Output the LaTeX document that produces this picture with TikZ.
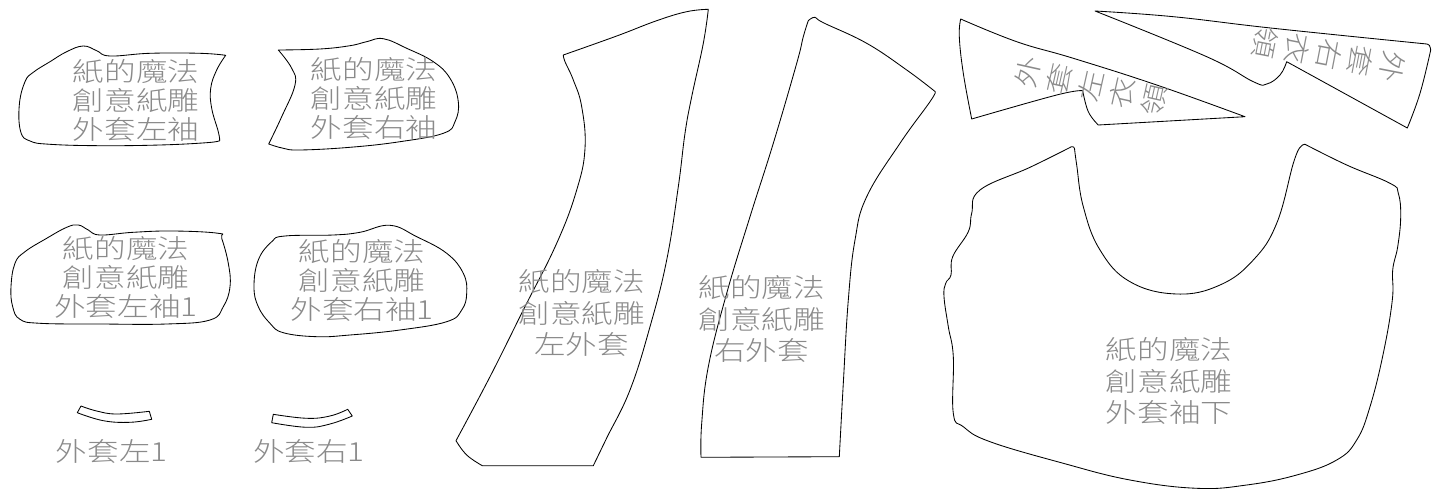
\documentclass[tikz,border=0pt]{standalone}
\usepackage{fontspec}
\newfontfamily\cjk[FakeStretch=1.2]{Noto Sans CJK TC Light}
\definecolor{txt}{HTML}{8A8A8A}
\tikzset{
 piece/.style={draw=black,line width=0.85pt,line join=round},
 lab/.style={text=txt,align=center,inner sep=0pt,font=\cjk\fontsize{26.3}{29}\selectfont},
 labw/.style={text=txt,align=center,inner sep=0pt,font=\cjk\fontsize{26.3}{31.7}\selectfont},
 labv/.style={text=txt,align=center,inner sep=0pt,font=\cjk\fontsize{26.3}{32.3}\selectfont},
 sm/.style={smooth,tension=0.7}
}
\begin{document}
\begin{tikzpicture}[x=1pt,y=-1pt]
\useasboundingbox (0,0) rectangle (1440,489);
% sleeves
\draw[piece] plot[sm] coordinates {(225.7,55.3)(200,53.3)(150,53.3)(110,56)(96.7,50.7)(83.3,46)(66.7,51.7)(50,61.7)(33.3,72.3)(25,81.7)(19.3,105)(20.7,131.7)(30,141)(50,144.3)(100,145.7)(160,145)(206.7,142.7)(219.7,140.7)}
 -- plot[sm] coordinates {(219.7,140.7)(218.3,131.7)(211.7,108.3)(210.7,88.3)(216.7,70)(225.7,55.3)} -- cycle;
\draw[piece] plot[sm] coordinates {(278.3,50)(320,49)(350,45.7)(366.7,41.7)(383.3,38.7)(406.7,48.3)(433.3,61.7)(450,78.3)(458.3,101.7)(455,121.7)(443.3,133.3)(400,141.7)(350,147.3)(300,150)(283.3,148.3)(268.7,144)}
 -- plot[sm] coordinates {(268.7,144)(281.7,116.7)(295,85)(291.7,68.3)(278.3,50)} -- cycle;
\draw[piece] plot[smooth cycle,tension=0.7] coordinates {(218.3,233.3)(221.7,238.3)(228.3,263.3)(230,286.7)(223.3,306.7)(210,320)(166.7,324)(100,324)(40,323.3)(20,319.3)(12.7,306.7)(11,286.7)(15,263.3)(25,251.7)(46.7,238.3)(66.7,227.3)(78.3,225)(88.3,230)(100,235)(133.3,232.3)(173.3,231)};
\draw[piece] plot[smooth cycle,tension=0.7] coordinates {(285,236)(333.3,235)(360,232.3)(390,225.3)(416.7,236.7)(446.7,253.3)(463.3,273.3)(466.7,293.3)(461.7,310)(446.7,321.7)(400,330)(350,335)(316.7,336.7)(283.3,332.7)(270,323.3)(258.3,306.7)(254,286.7)(258.3,260)(271.7,241.7)};
% small strips
\draw[piece] plot[sm] coordinates {(81,406)(96.7,411)(116.7,414)(149.3,411.3)} -- (151.7,419.3) -- plot[sm] coordinates {(151.7,419.3)(130,422.3)(103.3,420.7)(77.3,412.7)} -- cycle;
\draw[piece] plot[sm] coordinates {(273.3,414.3)(306.7,418.3)(330,416)(347.7,409.3)} -- (352.3,416) -- plot[sm] coordinates {(352.3,416)(330,424)(306.7,427.3)(271.7,422.7)} -- cycle;
% left coat
\draw[piece] plot[sm] coordinates {(563.3,55)(616.7,36)(656.7,20.7)(686.7,11.7)(708.3,9.3)}
 -- plot[sm] coordinates {(708.3,9.3)(703.3,43.3)(691.7,96.7)(685,133.3)(678.3,186.7)(666.7,260)(650,326.7)(630,390)(606.7,438)(593.3,465.7)}
 -- (482.3,465.7) -- plot[sm] coordinates {(482.3,465.7)(466.7,455)(456,440.7)}
 -- plot[sm] coordinates {(456,440.7)(490,376.7)(523.3,310)(556.7,243.3)(576.7,190)(585,148.3)(581.7,106.7)(573.3,80)(565,61.7)(563.3,55)} -- cycle;
% right coat
\draw[piece] plot[sm] coordinates {(808.3,20.7)(815,17.3)(823.3,22.7)(866.7,43.3)(906.7,70)(935.3,91.7)}
 -- plot[sm] coordinates {(935.3,91.7)(930,101.7)(900,143.3)(866.7,196.7)(855,240)(848.3,300)(843.3,383.3)(839.3,456.7)}
 -- (701,457.3) -- plot[sm] coordinates {(701,457.3)(701.7,423.3)(708.3,366.7)(726.7,293.3)(750,216.7)(773.3,143.3)(796.7,63.3)(803.3,36.7)(808.3,20.7)} -- cycle;
% collars
\draw[piece] plot[sm] coordinates {(960.7,19)(1016.7,41.7)(1073.3,58.3)(1156.7,85)(1245,116.7)}
 -- (1098.3,125) -- plot[sm] coordinates {(1098.3,125)(1088.3,111.7)(1082.7,90.7)}
 -- plot[sm] coordinates {(1082.7,90.7)(1056.7,95)(971.7,119)}
 -- plot[sm] coordinates {(971.7,119)(963.3,73.3)(959.3,36.7)(960.7,19)} -- cycle;
\draw[piece] plot[sm] coordinates {(1095,11)(1173.3,16.7)(1273.3,28.3)(1426.7,44)}
 -- plot[sm] coordinates {(1426.7,44)(1429.5,45.5)(1430.7,50)}
 -- plot[sm] coordinates {(1430.7,50)(1420,93.3)(1407.3,128)}
 -- (1286.7,61.7) -- plot[sm] coordinates {(1286.7,61.7)(1280,75)(1266.7,84)(1253.3,81.7)(1206.7,56.7)(1095,11)} -- cycle;
% lower body
\draw[piece] plot[sm] coordinates {(1074.5,148.5)(1076.7,165)(1083.3,206.7)(1100,250)(1130,281.7)(1176.7,294)(1220,285)(1253.3,260)(1276.7,223.3)(1293.3,163.3)(1300,147.5)}
 -- plot[sm] coordinates {(1300,147.5)(1302.5,145)(1305,144.3)}
 -- plot[sm] coordinates {(1305,144.3)(1346.7,165)(1390,183.3)(1398.3,193.3)(1400.7,216.7)(1397.7,246.7)(1392.7,270)(1392.3,300)(1383.3,353.3)(1370,406.7)(1356.7,440)(1336.7,460)(1296.7,475)(1246.7,485)(1196.7,488.3)(1130,480)(1063.3,463.3)(990,441.7)(963.3,426.7)(953.3,413.3)(953.3,356.7)(948.3,326.7)(944,296.7)(945.7,283.3)(951,275)(952.7,256.7)(968.3,231.7)(971.7,213.3)(980,190)(1030,167.3)(1071.5,146.7)}
 -- plot[sm] coordinates {(1071.5,146.7)(1073.5,147)(1074.5,148.5)} -- cycle;
% labels
\node[lab] (ta) at (136,100.7) {紙的魔法\\創意紙雕\\外套左袖};
\node[lab] (tb) at (374,98.7) {紙的魔法\\創意紙雕\\外套右袖};
\node[lab] (tc) at (126,277) {紙的魔法\\創意紙雕\\外套左袖1};
\node[lab] (td) at (362,280.5) {紙的魔法\\創意紙雕\\外套右袖1};
\node[labw] (te) at (581.7,313) {紙的魔法\\創意紙雕\\左外套};
\node[labw] (tf) at (761.7,319) {紙的魔法\\創意紙雕\\右外套};
\node[labw] (tg) at (1169,381) {紙的魔法\\創意紙雕\\外套袖下};
\node[labw] (th) at (111.7,451.7) {外套左1};
\node[labw] (ti) at (308.9,451.7) {外套右1};
\node[labv,rotate=77.4] (tj) at (1091,86) {外\\套\\左\\衣\\領};
\node[labv,rotate=-101] (tk) at (1329,55) {外\\套\\右\\衣\\領};
\end{tikzpicture}
\end{document}
